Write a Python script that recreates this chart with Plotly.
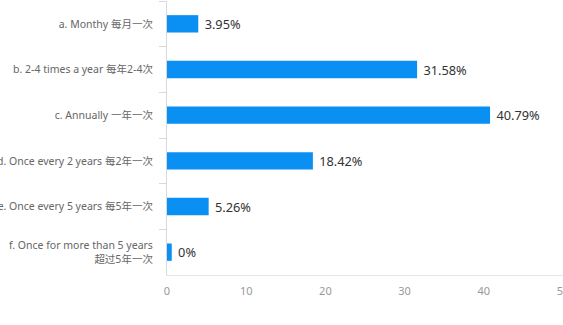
import plotly.graph_objects as go

categories = [
    "a. Monthy 每月一次",
    "b. 2-4 times a year 每年2-4次",
    "c. Annually 一年一次",
    "d. Once every 2 years 每2年一次",
    "e. Once every 5 years 每5年一次",
    "f. Once for more than 5 years<br>超过5年一次",
]
values = [3.95, 31.58, 40.79, 18.42, 5.26, 0]
value_labels = ["3.95%", "31.58%", "40.79%", "18.42%", "5.26%", "0%"]
x_ticks = [0, 10, 20, 30, 40, 50]

# minimum visible bar length (style, like a bar min-height setting)
MIN_BAR = 0.6
bar_lengths = [max(v, MIN_BAR) for v in values]

fig = go.Figure(
    go.Bar(
        x=bar_lengths,
        y=categories,
        orientation="h",
        marker=dict(color="#0a8ff2", line=dict(width=0)),
        text=[" " + t for t in value_labels],
        textposition="outside",
        textfont=dict(size=14, color="#333333", family="Noto Sans, Noto Sans CJK SC"),
        cliponaxis=False,
        hoverinfo="skip",
    )
)

fig.update_layout(
    width=563,
    height=325,
    margin=dict(l=167, r=0, t=1, b=50),
    paper_bgcolor="white",
    plot_bgcolor="white",
    bargap=0.62,
    showlegend=False,
    font=dict(family="Noto Sans, Noto Sans CJK SC", size=10.5, color="#666666"),
)
fig.update_yaxes(
    autorange="reversed",
    automargin=False,
    showline=True,
    linecolor="#d6d9e0",
    linewidth=1,
    ticks="outside",
    ticklen=7,
    tickcolor="#d6d9e0",
    tickson="boundaries",
    ticklabelstandoff=11,
    tickfont=dict(size=10.5, color="#666666"),
    showgrid=False,
    zeroline=False,
)
fig.update_xaxes(
    range=[0, 50.001],
    automargin=False,
    tickvals=x_ticks,
    ticktext=[str(t) for t in x_ticks],
    ticklabeloverflow="allow",
    showgrid=False,
    zeroline=False,
    showline=True,
    linecolor="#e3e5ea",
    linewidth=1,
    ticks="",
    ticklabelstandoff=6,
    tickfont=dict(size=11, color="#999999"),
)

fig.write_html("out.html")
